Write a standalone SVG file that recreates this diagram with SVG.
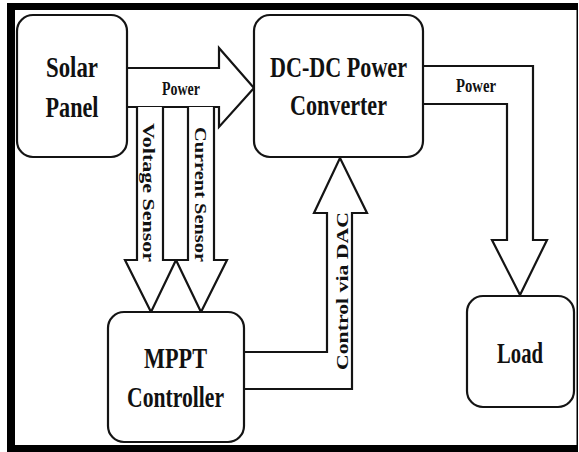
<svg xmlns="http://www.w3.org/2000/svg" width="579" height="452" viewBox="0 0 579 452">
<style>
.box{fill:#fff;stroke:#141414;stroke-width:2.2}
.arr{fill:#fff;stroke:#141414;stroke-width:2.2;stroke-linejoin:miter}
text{font-family:'Liberation Serif','DejaVu Serif',serif;font-weight:bold;fill:#111;text-anchor:middle}
.big{font-size:29px}
.sm{font-size:18px}
.rot{font-size:16px}
</style>
<rect x="0" y="0" width="579" height="452" fill="#fff"/>
<g id="frame">
<rect x="7" y="3" width="571" height="449" fill="#000"/>
<rect x="15" y="10" width="561.5" height="435" fill="#fff"/>
</g>
<g id="connectors">
<path class="arr" d="M127,68 H219 V48 L254,88 L219,127 V107 H127"/>
<path class="arr" d="M137,107 V260 H125 L151,312 L176,260 H163 V107"/>
<path class="arr" d="M188,107 V260 H176 L201,312 L227,260 H214 V107"/>
<path class="arr" d="M423,66 H533 V240 H547 L520,295 L492,240 H507 V104 H423"/>
<path class="arr" d="M244,352 H327 V213 H314 L340,158 L367,213 H352 V389 H244"/>
<text class="sm" x="181" y="95" textLength="38" lengthAdjust="spacingAndGlyphs">Power</text>
<text class="sm" x="476" y="92" textLength="40" lengthAdjust="spacingAndGlyphs">Power</text>
<text class="rot" transform="translate(143,192.5) rotate(90)" textLength="139" lengthAdjust="spacingAndGlyphs">Voltage Sensor</text>
<text class="rot" transform="translate(195,194.5) rotate(90)" textLength="135" lengthAdjust="spacingAndGlyphs">Current Sensor</text>
<text class="rot" transform="translate(348,291) rotate(-90)" style="font-size:17px" textLength="158" lengthAdjust="spacingAndGlyphs">Control via DAC</text>
</g>
<g id="solar">
<rect class="box" x="17" y="15" width="110" height="142" rx="16"/>
<text class="big" x="72" y="77" textLength="52" lengthAdjust="spacingAndGlyphs">Solar</text>
<text class="big" x="72" y="117" textLength="53" lengthAdjust="spacingAndGlyphs">Panel</text>
</g>
<g id="dcdc">
<rect class="box" x="254" y="15" width="169" height="142" rx="16"/>
<text class="big" x="338.5" y="77" textLength="137" lengthAdjust="spacingAndGlyphs">DC-DC Power</text>
<text class="big" x="338.5" y="115" textLength="97" lengthAdjust="spacingAndGlyphs">Converter</text>
</g>
<g id="mppt">
<rect class="box" x="108" y="312" width="136" height="130" rx="16"/>
<text class="big" x="175.5" y="368" textLength="63" lengthAdjust="spacingAndGlyphs">MPPT</text>
<text class="big" x="175.5" y="407" textLength="97" lengthAdjust="spacingAndGlyphs">Controller</text>
</g>
<g id="load">
<rect class="box" x="467" y="296" width="107" height="111" rx="16"/>
<text class="big" x="520" y="363" textLength="46" lengthAdjust="spacingAndGlyphs">Load</text>
</g>
</svg>
